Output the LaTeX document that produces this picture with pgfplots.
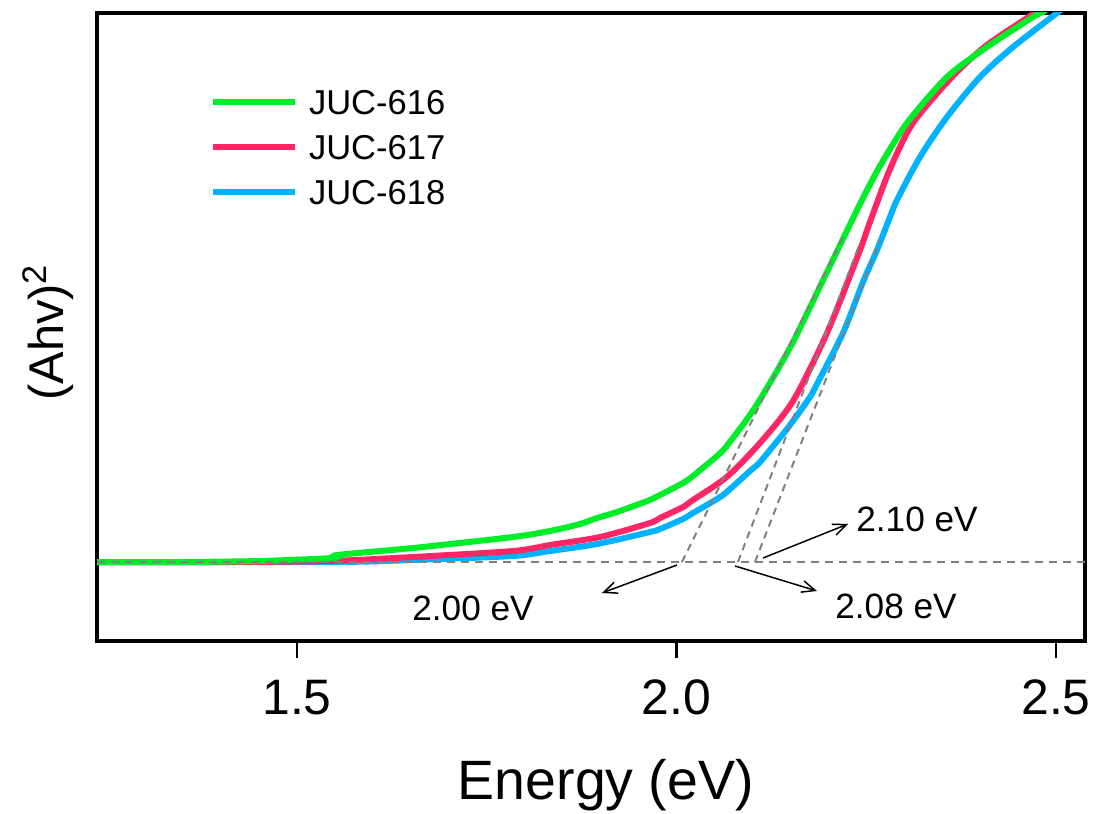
\documentclass[border=0pt]{standalone}
\usepackage{pgfplots}
\pgfplotsset{compat=1.18}
\usepackage{fontspec}
\setmainfont{Liberation Sans}
\usetikzlibrary{arrows.meta}
\definecolor{cgreen}{RGB}{0,238,40}
\definecolor{cred}{RGB}{255,38,102}
\definecolor{cblue}{RGB}{0,178,255}
\definecolor{dgray}{RGB}{128,128,128}
\begin{document}
\begin{tikzpicture}
\begin{axis}[
  scale only axis, width=296.4bp, height=188.4bp,
  xmin=1.2365, xmax=2.5382, ymin=-0.79, ymax=5.49,
  xtick={1.5,2.0,2.5}, ytick=\empty,
  xtick pos=left, tick align=outside,
  major tick length=5.1bp,
  every tick/.style={black, line width=0.8bp},
  axis line style={line width=1.2bp},
  /pgf/number format/assume math mode=true,
  xticklabel style={font=\fontsize{15}{15}\selectfont, anchor=base, yshift=-16.8bp,
     /pgf/number format/.cd, fixed, fixed zerofill, precision=1},
  xlabel={Energy (eV)},
  xlabel style={font=\fontsize{16.7}{18}\selectfont, at={(axis description cs:0.515,-0.2516)}, anchor=base},
  ylabel={(Ahv)\textsuperscript{2}},
  ylabel style={font=\fontsize{14.7}{16}\selectfont, at={(axis description cs:-0.0496,0.492)}, anchor=center},
  reverse legend,
  legend cell align=left,
  legend style={at={(axis description cs:0.1144,0.8782)}, anchor=north west, draw=none, fill=none,
     inner sep=0pt, outer sep=0pt, font=\fontsize{10.4}{12}\selectfont, row sep=6bp, column sep=3.3bp,
     nodes={inner sep=0pt, text height=7.5bp, text depth=0pt}},
  legend image code/.code={\draw[#1] (0bp,0bp) -- (24.6bp,0bp);},
]
\addplot[cblue, line width=1.8bp, smooth, tension=0.45] coordinates {
(1.2365,0) (1.55,0) (1.6528,0.02) (1.7846,0.06) (1.8333,0.11) (1.8953,0.18)
(1.9651,0.30) (1.9783,0.33) (2.0086,0.43) (2.0217,0.49) (2.0534,0.63) (2.0662,0.70)
(2.0968,0.91) (2.1100,1.00) (2.1403,1.28) (2.1535,1.41) (2.1759,1.65) (2.1851,1.78)
(2.2194,2.29) (2.2457,2.80) (2.2642,3.12) (2.2813,3.45) (2.2905,3.62) (2.3208,4.05)
(2.3564,4.45) (2.3999,4.85) (2.4433,5.15) (2.5013,5.49) (2.51,5.55)};
\addlegendentry{JUC-618}
\addplot[cred, line width=1.8bp, smooth, tension=0.45] coordinates {
(1.2365,0) (1.41,0) (1.543,0.01) (1.6528,0.05) (1.7846,0.11) (1.8333,0.17)
(1.8992,0.25) (1.9651,0.39) (1.9783,0.44) (2.0086,0.55) (2.0217,0.62) (2.0662,0.85)
(2.1100,1.19) (2.1535,1.61) (2.1983,2.29) (2.2418,3.12) (2.2549,3.40) (2.2813,3.93)
(2.3116,4.39) (2.3643,4.86) (2.4091,5.17) (2.4697,5.48) (2.48,5.55)};
\addlegendentry{JUC-617}
\addplot[cgreen, line width=1.8bp, smooth, tension=0.45] coordinates {
(1.2365,0) (1.35,0) (1.45,0.01) (1.5487,0.04) (1.5527,0.07) (1.6528,0.14)
(1.7846,0.25) (1.8333,0.31) (1.8729,0.38) (1.8953,0.44) (1.9216,0.50) (1.9651,0.62)
(1.9783,0.67) (2.0086,0.79) (2.0217,0.86) (2.0534,1.06) (2.0662,1.16) (2.0968,1.47)
(2.1192,1.74) (2.1535,2.20) (2.1983,2.90) (2.2418,3.58) (2.2681,3.96) (2.3037,4.39)
(2.3564,4.85) (2.4091,5.15) (2.4697,5.45) (2.4829,5.50) (2.49,5.55)};
\addlegendentry{JUC-616}
% dashed baseline and tangents
\addplot[forget plot, dgray, line width=0.6bp, dash pattern=on 2.4bp off 1.8bp] coordinates {(1.2365,0) (2.5382,0)};
\addplot[forget plot, dgray, line width=0.6bp, dash pattern=on 2.2bp off 1.6bp] coordinates {(2.0072,0) (2.222,3.29)};
\addplot[forget plot, dgray, line width=0.6bp, dash pattern=on 2.2bp off 1.6bp] coordinates {(2.081,0) (2.2418,3.19)};
\addplot[forget plot, dgray, line width=0.6bp, dash pattern=on 2.2bp off 1.6bp] coordinates {(2.1034,0) (2.268,3.22)};
% arrows
\draw[line width=0.45bp, -{Straight Barb[length=4bp,width=3.5bp]}] (axis cs:2.0007,-0.03) -- (axis cs:1.9018,-0.31);
\draw[line width=0.45bp, -{Straight Barb[length=4bp,width=3.5bp]}] (axis cs:2.0771,-0.04) -- (axis cs:2.1851,-0.29);
\draw[line width=0.45bp, -{Straight Barb[length=4bp,width=3.5bp]}] (axis cs:2.1140,0.04) -- (axis cs:2.2260,0.38);
\node[anchor=base, font=\fontsize{10.6}{12}\selectfont] at (axis cs:1.7319,-0.58) {2.00 eV};
\node[anchor=base, font=\fontsize{10.6}{12}\selectfont] at (axis cs:2.2892,-0.56) {2.08 eV};
\node[anchor=base, font=\fontsize{10.6}{12}\selectfont] at (axis cs:2.3169,0.30) {2.10 eV};
\end{axis}
\pgfresetboundingbox
\path[use as bounding box] ([xshift=-29.1bp,yshift=-51.9bp]current axis.south west) rectangle ([xshift=3.6bp,yshift=3.9bp]current axis.north east);
\end{tikzpicture}
\end{document}
